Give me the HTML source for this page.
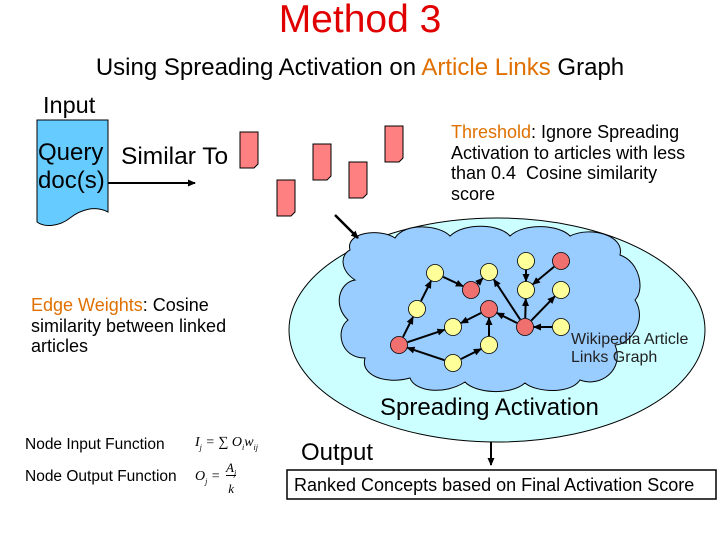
<!DOCTYPE html>
<html><head><style>
body{margin:0;width:720px;height:540px;background:#fff;position:relative;overflow:hidden;font-family:"Liberation Sans",Arial,sans-serif}
.t{position:absolute;white-space:nowrap;line-height:1}
</style></head><body>
<svg id="s" width="720" height="540" style="position:absolute;left:0;top:0">
<defs><marker id="a" markerWidth="8" markerHeight="8" refX="7" refY="4" orient="auto" markerUnits="userSpaceOnUse"><path d="M0,0.5 L8,4 L0,7.5 z" fill="#000"/></marker></defs>
<ellipse cx="497" cy="330" rx="208" ry="112" fill="#ccffff" stroke="#000" stroke-width="1"/>
<path d="M350,250 C345,232 380,228 395,238 C405,222 440,225 450,236 C465,222 500,224 510,236 C525,222 560,225 570,236 C590,226 625,235 620,255 C640,262 645,290 635,300 C648,320 630,345 615,345 C625,370 600,388 580,380 C570,395 535,392 525,383 C510,396 475,393 465,382 C445,395 415,392 410,378 C385,385 360,375 365,358 C340,358 335,330 348,320 C332,305 340,282 355,280 C340,270 340,255 350,250 z" fill="#99ccff" stroke="#000" stroke-width="1"/>
<path d="M37,120 H108 V212 C95,205 80,210 70,218 C60,226 45,228 37,222 z" fill="#66ccff" stroke="#000" stroke-width="1"/>
<g fill="#ff8080" stroke="#000" stroke-width="1">
<path d="M240,132 H258 V164 L254,168 H240 z"/>
<path d="M277,180 H295 V212 L291,216 H277 z"/>
<path d="M313,144 H331 V176 L327,180 H313 z"/>
<path d="M349,162 H367 V194 L363,198 H349 z"/>
<path d="M385,126 H403 V158 L399,162 H385 z"/>
</g>
<line x1="108" y1="183" x2="195" y2="183" stroke="#000" stroke-width="2" marker-end="url(#a)"/>
<line x1="335" y1="215" x2="358" y2="238" stroke="#000" stroke-width="2.5" marker-end="url(#a)"/>
<line x1="491" y1="442" x2="491" y2="465" stroke="#000" stroke-width="2" marker-end="url(#a)"/>
<rect x="287" y="470" width="429" height="29" fill="#fff" stroke="#000" stroke-width="1.5"/>
<g id="g"></g>
</svg>
<div class="t" style="left:0;width:720px;text-align:center;top:0px;font-size:39px;color:#e00000">Method 3</div>
<div class="t" style="left:0;width:720px;text-align:center;top:56px;font-size:24px">Using Spreading Activation on <span style="color:#e07000">Article Links</span> Graph</div>
<div class="t" style="left:43px;top:94px;font-size:23.5px">Input</div>
<div class="t" style="left:38px;top:139px;font-size:24px;line-height:28px">Query<br>doc(s)</div>
<div class="t" style="left:121px;top:145px;font-size:24.5px">Similar To</div>
<div class="t" style="left:451px;top:122px;font-size:18px;line-height:20.5px"><span style="color:#e07000">Threshold</span>: Ignore Spreading<br>Activation to articles with less<br>than 0.4&nbsp; Cosine similarity<br>score</div>
<div class="t" style="left:31px;top:295px;font-size:18px;line-height:20.5px"><span style="color:#e07000">Edge Weights</span>: Cosine<br>similarity between linked<br>articles</div>
<div class="t" style="left:571px;top:331px;font-size:16px;line-height:18px;color:#222">Wikipedia Article<br>Links Graph</div>
<div class="t" style="left:380px;top:396px;font-size:24px">Spreading Activation</div>
<div class="t" style="left:25px;top:437px;font-size:15.5px">Node Input Function</div>
<div class="t" style="left:25px;top:469px;font-size:15.5px">Node Output Function</div>
<div class="t" style="left:195px;top:436px;font-size:14px;font-family:'Liberation Serif',serif;font-style:italic">I<sub style="font-size:8px">j</sub> = ∑ O<sub style="font-size:8px">i</sub>w<sub style="font-size:8px">ij</sub></div>
<div class="t" style="left:195px;top:470px;font-size:14px;font-family:'Liberation Serif',serif;font-style:italic">O<sub style="font-size:8px">j</sub> =</div>
<div class="t" style="left:226px;top:460px;font-size:13px;font-family:'Liberation Serif',serif;font-style:italic;text-align:center;line-height:15px"><span style="border-bottom:1px solid #000">A<sub style="font-size:8px">j</sub></span><br>k</div>
<div class="t" style="left:301px;top:441px;font-size:24px">Output</div>
<div class="t" style="left:294px;top:476px;font-size:18px">Ranked Concepts based on Final Activation Score</div>
<script>
var N={y1:[435,273],y2:[489,272],y3:[526,261],y4:[526,290],y5:[561,290],y6:[417,309],y7:[453,327],y8:[489,345],y9:[453,363],y10:[561,327],
r1:[471,290],r2:[561,261],r3:[489,309],r4:[525,327],r5:[399,345]};
var E=[["y1","r1"],["r1","y2"],["r4","y2"],["y3","y4"],["r2","y4"],["r4","y4"],["r4","y5"],["y10","r4"],["r4","r3"],["r3","y7"],["y8","r3"],["y9","y8"],["y9","r5"],["r5","y7"],["r5","y6"],["y6","y1"]];
var g=document.getElementById("g"),h="",R=9;
E.forEach(function(e){var a=N[e[0]],b=N[e[1]],dx=b[0]-a[0],dy=b[1]-a[1],l=Math.sqrt(dx*dx+dy*dy),ux=dx/l,uy=dy/l;
h+='<line x1="'+(a[0]+ux*R)+'" y1="'+(a[1]+uy*R)+'" x2="'+(b[0]-ux*R)+'" y2="'+(b[1]-uy*R)+'" stroke="#000" stroke-width="2" marker-end="url(#a)"/>';});
for(var k in N){h+='<circle cx="'+N[k][0]+'" cy="'+N[k][1]+'" r="8.5" fill="'+(k[0]=="r"?"#f07070":"#ffff99")+'" stroke="#000" stroke-width="0.8"/>';}
g.innerHTML=h;
</script>
</body></html>
